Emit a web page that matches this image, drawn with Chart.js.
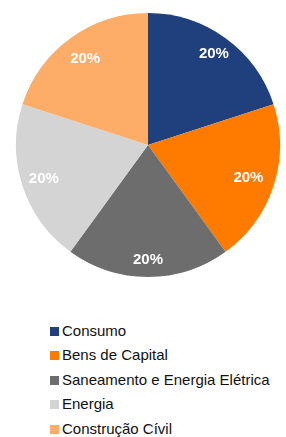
<!DOCTYPE html>
<html>
<head>
<meta charset="utf-8">
<script src="https://cdn.jsdelivr.net/npm/chart.js@4"></script>
<style>
  html, body { margin: 0; padding: 0; background: #fff; }
  #wrap { position: relative; width: 286px; height: 290px; }
  #legend { position: absolute; left: 50px; top: 318.7px; font-family: "Liberation Sans", Arial, sans-serif; font-size: 15px; color: #111; }
  .item { height: 24.6px; line-height: 24.6px; white-space: nowrap; }
  .box { display: inline-block; width: 9px; height: 9px; margin-right: 3px; }
</style>
</head>
<body>
<div id="wrap"><canvas id="pieCanvas"></canvas></div>
<div id="legend"></div>
<script>
const categories = ["Consumo", "Bens de Capital", "Saneamento e Energia Elétrica", "Energia", "Construção Cívil"];
const shares = [20, 20, 20, 20, 20];
const colors = ["#1F3F7D", "#FF7B00", "#6D6D6D", "#D4D4D4", "#FDAD68"];
// how far out along each slice the label sits (fraction of the radius)
const labelDepth = [0.85, 0.80, 0.87, 0.83, 0.81];

// draws the "20%" labels out toward the rim of each slice
const sliceLabels = {
    id: "sliceLabels",
    afterDatasetsDraw(chart){
        const ctx = chart.ctx;
        const meta = chart.getDatasetMeta(0);
        ctx.save();
        ctx.fillStyle = "#fff";
        ctx.font = "bold 15px 'Liberation Sans', Arial, sans-serif";
        ctx.textAlign = "center";
        ctx.textBaseline = "middle";
        meta.data.forEach((arc, i) => {
            const p = arc.getProps(["x", "y", "startAngle", "endAngle", "outerRadius"], true);
            const mid = (p.startAngle + p.endAngle) / 2;
            const r = p.outerRadius * labelDepth[i];
            ctx.fillText(shares[i] + "%", p.x + Math.cos(mid) * r, p.y + Math.sin(mid) * r);
        });
        ctx.restore();
    }
};

let chart = null;

function startChart(){
    const canvas = document.getElementById("pieCanvas");
    canvas.width = 286;
    canvas.height = 290;
    chart = new Chart(canvas.getContext("2d"), {
        type: "pie",
        data: {
            labels: categories,
            datasets: [{
                data: shares,
                backgroundColor: colors,
                borderWidth: 0
            }]
        },
        options: {
            responsive: false,
            animation: false,
            layout: { padding: { top: 13, bottom: 13, left: 16, right: 6 } },
            plugins: {
                legend: { display: false },
                tooltip: { enabled: false }
            }
        },
        plugins: [sliceLabels]
    });
}

function buildLegend(){
    const el = document.getElementById("legend");
    categories.forEach((name, i) => {
        const row = document.createElement("div");
        row.className = "item";
        const box = document.createElement("span");
        box.className = "box";
        box.style.background = colors[i];
        row.appendChild(box);
        row.appendChild(document.createTextNode(name));
        el.appendChild(row);
    });
}

startChart();
buildLegend();
</script>
</body>
</html>
